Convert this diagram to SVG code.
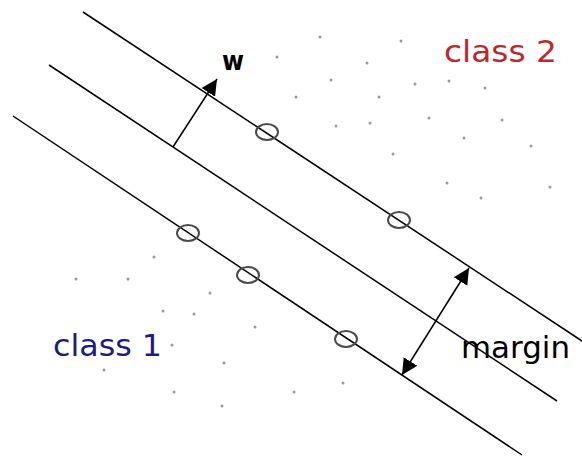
<svg xmlns="http://www.w3.org/2000/svg" width="582" height="457" viewBox="0 0 582 457">
<style>
.hp{stroke:#000;stroke-width:1.5;fill:none}
.sv{fill:none;stroke:#4a4a4a;stroke-width:2}
.dot{fill:#999}
.arr{stroke:#000;stroke-width:1.5;fill:none}
.lbl{font-family:"DejaVu Sans","Verdana",sans-serif}
</style>
<defs>
<marker id="ah" markerUnits="userSpaceOnUse" markerWidth="18" markerHeight="18" refX="16" refY="8" orient="auto-start-reverse" viewBox="0 0 18 16">
<path d="M0,0 L16,8 L0,16 z" fill="#000"/>
</marker>
</defs>
<rect width="582" height="457" fill="#fff"/>
<g id="points">
<circle class="dot" cx="320" cy="37" r="1.5"/>
<circle class="dot" cx="401" cy="41" r="1.5"/>
<circle class="dot" cx="367" cy="63" r="1.5"/>
<circle class="dot" cx="331" cy="80" r="1.5"/>
<circle class="dot" cx="415" cy="84" r="1.5"/>
<circle class="dot" cx="449" cy="81" r="1.5"/>
<circle class="dot" cx="485" cy="88" r="1.5"/>
<circle class="dot" cx="296" cy="97" r="1.5"/>
<circle class="dot" cx="379" cy="97" r="1.5"/>
<circle class="dot" cx="336" cy="126" r="1.5"/>
<circle class="dot" cx="370" cy="123" r="1.5"/>
<circle class="dot" cx="429" cy="118" r="1.5"/>
<circle class="dot" cx="502" cy="120" r="1.5"/>
<circle class="dot" cx="464" cy="138" r="1.5"/>
<circle class="dot" cx="531" cy="146" r="1.5"/>
<circle class="dot" cx="393" cy="154" r="1.5"/>
<circle class="dot" cx="447" cy="183" r="1.5"/>
<circle class="dot" cx="481" cy="198" r="1.5"/>
<circle class="dot" cx="550" cy="187" r="1.5"/>
<circle class="dot" cx="277" cy="57" r="1.5"/>
<circle class="dot" cx="154" cy="257" r="1.5"/>
<circle class="dot" cx="76" cy="279" r="1.5"/>
<circle class="dot" cx="128" cy="279" r="1.5"/>
<circle class="dot" cx="210" cy="293" r="1.5"/>
<circle class="dot" cx="163" cy="311" r="1.5"/>
<circle class="dot" cx="194" cy="314" r="1.5"/>
<circle class="dot" cx="255" cy="327" r="1.5"/>
<circle class="dot" cx="172" cy="345" r="1.5"/>
<circle class="dot" cx="104" cy="370" r="1.5"/>
<circle class="dot" cx="224" cy="363" r="1.5"/>
<circle class="dot" cx="174" cy="392" r="1.5"/>
<circle class="dot" cx="222" cy="406" r="1.5"/>
<circle class="dot" cx="294" cy="392" r="1.5"/>
<circle class="dot" cx="343" cy="383" r="1.5"/>
</g>
<g id="hyperplanes">
<line id="plane-top" class="hp" x1="83" y1="12" x2="582" y2="341"/>
<line id="plane-mid" class="hp" x1="49" y1="65" x2="557" y2="401"/>
<line id="plane-bottom" class="hp" x1="13" y1="116" x2="522" y2="455"/>
</g>
<g id="support-vectors">
<ellipse class="sv" cx="267" cy="132" rx="11" ry="8"/>
<ellipse class="sv" cx="399" cy="220" rx="11" ry="8"/>
<ellipse class="sv" cx="188" cy="233" rx="11" ry="8"/>
<ellipse class="sv" cx="248" cy="275" rx="11" ry="8"/>
<ellipse class="sv" cx="346" cy="339" rx="11" ry="8"/>
</g>
<g id="connectors">
<line id="w-arrow" class="arr" x1="173" y1="147" x2="217" y2="79" marker-end="url(#ah)"/>
<line id="margin-arrow" class="arr" x1="402" y1="375" x2="469" y2="268" marker-start="url(#ah)" marker-end="url(#ah)"/>
</g>
<g id="labels">
<text id="w-label" class="lbl" x="222" y="70" font-size="26" font-weight="bold" fill="#000" textLength="22" lengthAdjust="spacingAndGlyphs">w</text>
<text id="class2" class="lbl" x="444" y="62" font-size="31" fill="#c0262e" textLength="113" lengthAdjust="spacingAndGlyphs">class 2</text>
<text id="class1" class="lbl" x="53" y="356" font-size="31" fill="#1c1c84" textLength="109" lengthAdjust="spacingAndGlyphs">class 1</text>
<text id="margin" class="lbl" x="461" y="358" font-size="30" fill="#000" textLength="109" lengthAdjust="spacingAndGlyphs">margin</text>
</g>
</svg>
